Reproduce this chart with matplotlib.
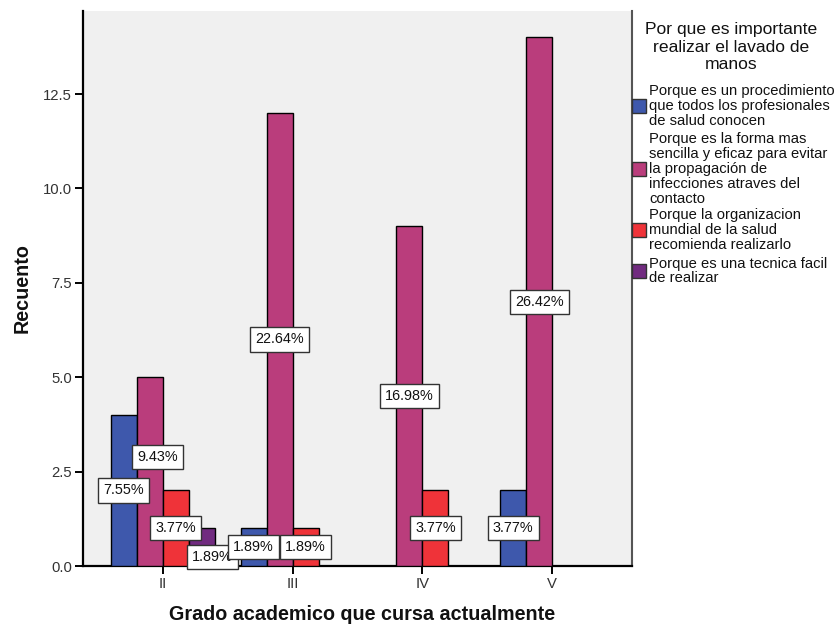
import matplotlib
matplotlib.use("Agg")
import matplotlib.pyplot as plt
from matplotlib.patches import Rectangle
import numpy as np

plt.rcParams["font.family"] = ["Liberation Sans", "DejaVu Sans"]

# ---- data -------------------------------------------------------------
categories = ["II", "III", "IV", "V"]

series_labels = [
    "Porque es un procedimiento\nque todos los profesionales\nde salud conocen",
    "Porque es la forma mas\nsencilla y eficaz para evitar\nla propagación de\ninfecciones atraves del\ncontacto",
    "Porque la organizacion\nmundial de la salud\nrecomienda realizarlo",
    "Porque es una tecnica facil\nde realizar",
]

counts_procedimiento = [4, 1, 0, 2]
counts_sencilla = [5, 12, 9, 14]
counts_oms = [2, 1, 2, 0]
counts_facil = [1, 0, 0, 0]

y_ticks = [0.0, 2.5, 5.0, 7.5, 10.0, 12.5]

legend_title = "Por que es importante\nrealizar el lavado de\nmanos"
x_title = "Grado academico que cursa actualmente"
y_title = "Recuento"

# ---- style --------------------------------------------------------------
colors = ["#3E58AC", "#BA3D7C", "#EF3339", "#712B80"]
W, H, DPI = 834, 627, 100

series = [counts_procedimiento, counts_sencilla, counts_oms, counts_facil]
total = sum(sum(s) for s in series)

fig = plt.figure(figsize=(W / DPI, H / DPI), dpi=DPI)


def fx(px):
    return px / W


def fy(py):
    return 1 - py / H


# plot area
left, right, top, bottom = 83, 632, 11, 566
ax = fig.add_axes([fx(left), fy(bottom), fx(right - left), (bottom - top) / H])
ax.set_facecolor("#F0F0F0")

bar_w = 0.2
xpos = np.arange(len(categories))
for i, vals in enumerate(series):
    offs = (i - 1.5) * bar_w
    vals = np.asarray(vals, dtype=float)
    keep = vals > 0
    ax.bar(xpos[keep] + offs, vals[keep], width=bar_w, color=colors[i],
           edgecolor="black", linewidth=1.0, zorder=3)

# value labels (percent of all respondents), a few nudged to avoid overlap;
# drawn group by group so that later groups sit on top
nudges = {(1, 0): (5.8, 10.5), (3, 0): (7.6, -7.2)}
z = 6.0
for j in range(len(categories)):
    for i, vals in enumerate(series):
        v = vals[j]
        if v <= 0:
            continue
        offs = (i - 1.5) * bar_w
        z += 0.01
        ax.annotate(f"{v / total * 100:.2f}%", xy=(xpos[j] + offs, v / 2),
                    xytext=nudges.get((i, j), (0, 0)), textcoords="offset points",
                    ha="center", va="center", fontsize=10.4, color="#111111",
                    bbox=dict(boxstyle="square,pad=0.36", fc="white",
                              ec="#333333", lw=1.0),
                    zorder=z, annotation_clip=False)

ax.set_xlim(-0.615, len(categories) - 1 + 0.615)
ax.set_ylim(0, 14.7)
ax.set_xticks(xpos)
ax.set_xticklabels(categories)
ax.set_yticks(y_ticks)
ax.set_yticklabels([f"{t:.1f}" for t in y_ticks])
ax.tick_params(axis="both", direction="out", length=6, width=1.4,
               color="black", labelsize=10.7, labelcolor="#333333", pad=2)

ax.spines["top"].set_visible(False)
ax.spines["left"].set_linewidth(1.6)
ax.spines["bottom"].set_linewidth(1.6)
ax.spines["right"].set_color("#555555")
ax.spines["right"].set_linewidth(1.5)

# axis titles
fig.text(fx(362), fy(615), x_title, ha="center", va="center",
         fontsize=14.2, fontweight="bold", color="#111111")
fig.text(fx(22), fy(288), y_title, ha="center", va="center", rotation=90,
         fontsize=14.2, fontweight="bold", color="#111111")

# legend
fig.text(fx(731), fy(47), legend_title, ha="center", va="center",
         fontsize=12.6, linespacing=1.17, color="#111111")
entry_centers = [106, 169, 230, 271]
for lab, col, cy in zip(series_labels, colors, entry_centers):
    fig.patches.append(Rectangle((fx(632), fy(cy + 7)), fx(14), 14 / H,
                                 transform=fig.transFigure, facecolor=col,
                                 edgecolor="#333333", linewidth=1.0))
    fig.text(fx(649), fy(cy), lab, ha="left", va="center", fontsize=10.6,
             linespacing=1.07, color="#111111")

fig.savefig("out.png", dpi=DPI)
